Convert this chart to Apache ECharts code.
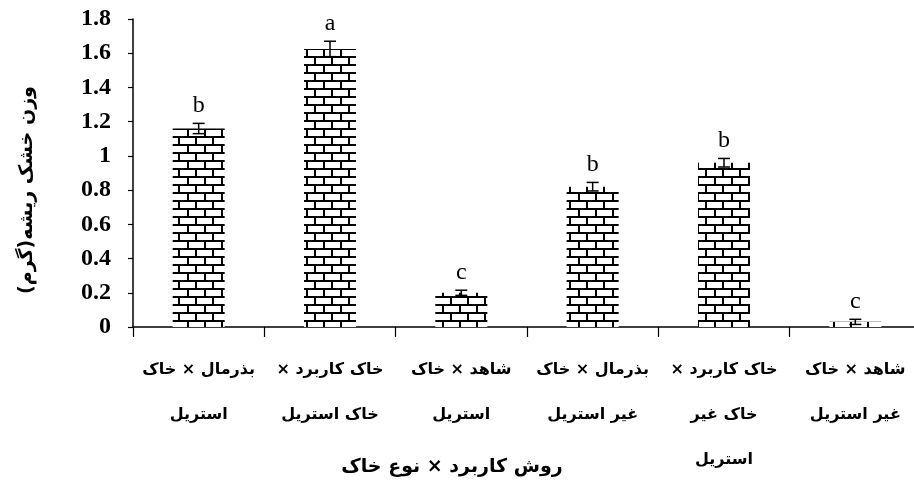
<!DOCTYPE html>
<html>
<head>
<meta charset="utf-8">
<script src="https://cdn.jsdelivr.net/npm/echarts@6/dist/echarts.min.js"></script>
<style>
  html, body { margin: 0; padding: 0; background: #fff; }
  #chart { width: 914px; height: 492px; }
</style>
</head>
<body>
<div id="chart"></div>
<script>
  // treatments (read right to left), one label per bar
  const categories = [
    'بذرمال × خاک\nاستریل',
    'خاک کاربرد ×\nخاک استریل',
    'شاهد × خاک\nاستریل',
    'بذرمال × خاک\nغیر استریل',
    'خاک کاربرد ×\nخاک غیر\nاستریل',
    'شاهد × خاک\nغیر استریل'
  ];
  const rootWeight = [1.16, 1.625, 0.2, 0.82, 0.96, 0.03];
  const errorSize = [0.03, 0.045, 0.015, 0.025, 0.025, 0.015];
  const letters = ['b', 'a', 'c', 'b', 'b', 'c'];
  const yMin = 0, yMax = 1.8, yStep = 0.2;
  const xName = 'روش کاربرد × نوع خاک';
  const yName = 'وزن خشک ریشه(گرم)';

  // wrap every line in a right-to-left embedding
  const rtl = (s) => s.split('\n').map(l => '\u202B' + l + '\u202C').join('\n');

  // brick fill
  function brickPattern() {
    const c = document.createElement('canvas');
    c.width = 34;
    c.height = 16;
    const g = c.getContext('2d');
    g.fillStyle = '#fff';
    g.fillRect(0, 0, 34, 16);
    g.fillStyle = '#000';
    g.fillRect(0, 0, 34, 2);
    g.fillRect(0, 8, 34, 2);
    g.fillRect(0, 0, 2, 8);
    g.fillRect(17, 0, 2, 8);
    g.fillRect(8, 8, 2, 8);
    g.fillRect(25, 8, 2, 8);
    return c;
  }

  const chart = echarts.init(document.getElementById('chart'));

  const errData = rootWeight.map((v, i) => [i, v - errorSize[i], v + errorSize[i]]);

  const option = {
    backgroundColor: '#fff',
    animation: false,
    grid: { left: 133, right: -7, top: 19, bottom: 165, outerBoundsMode: 'none' },
    xAxis: {
      type: 'category',
      data: categories,
      name: rtl(xName),
      nameLocation: 'middle',
      nameGap: 131,
      nameMoveOverlap: false,
      nameTextStyle: {
        fontFamily: 'DejaVu Sans',
        fontWeight: 'bold',
        fontSize: 19,
        color: '#000',
        padding: [0, 150, 0, 0]
      },
      axisLine: { lineStyle: { color: '#000', width: 1.5 } },
      axisTick: { show: true, length: 10, lineStyle: { color: '#000', width: 1.2 } },
      axisLabel: {
        interval: 0,
        margin: 20,
        fontFamily: 'DejaVu Sans',
        fontWeight: 'bold',
        fontSize: 16,
        lineHeight: 45,
        color: '#000',
        formatter: (v) => rtl(v)
      }
    },
    yAxis: {
      type: 'value',
      min: yMin,
      max: yMax,
      interval: yStep,
      name: rtl(yName),
      nameLocation: 'middle',
      nameRotate: 90,
      nameGap: 96,
      nameMoveOverlap: false,
      nameTextStyle: {
        fontFamily: 'DejaVu Sans',
        fontWeight: 'bold',
        fontSize: 19,
        color: '#000',
        padding: [0, 34, 0, 0]
      },
      splitLine: { show: false },
      axisLine: { show: true, lineStyle: { color: '#000', width: 1.5 } },
      axisTick: { show: true, length: 5, lineStyle: { color: '#000', width: 1.2 } },
      axisLabel: {
        margin: 22,
        fontFamily: 'Liberation Serif',
        fontWeight: 'bold',
        fontSize: 24,
        color: '#000'
      }
    },
    series: [
      {
        type: 'bar',
        data: rootWeight,
        barWidth: 52,
        itemStyle: {
          color: { image: brickPattern(), repeat: 'repeat' }
        }
      },
      {
        type: 'custom',
        data: errData,
        clip: false,
        z: 5,
        renderItem: (params, api) => {
          const i = api.value(0);
          const lo = api.coord([i, api.value(1)]);
          const hi = api.coord([i, api.value(2)]);
          const half = 6;
          const line = { stroke: '#000', lineWidth: 1.5 };
          return {
            type: 'group',
            children: [
              { type: 'line', shape: { x1: hi[0], y1: hi[1], x2: lo[0], y2: lo[1] }, style: line },
              { type: 'line', shape: { x1: hi[0] - half, y1: hi[1], x2: hi[0] + half, y2: hi[1] }, style: line },
              { type: 'line', shape: { x1: lo[0] - half, y1: lo[1], x2: lo[0] + half, y2: lo[1] }, style: line },
              {
                type: 'text',
                x: hi[0],
                y: hi[1] - 6,
                style: {
                  text: letters[params.dataIndex],
                  fontFamily: 'Liberation Serif',
                  fontSize: 24,
                  fill: '#000',
                  align: 'center',
                  verticalAlign: 'bottom'
                }
              }
            ]
          };
        }
      }
    ]
  };

  chart.setOption(option);
</script>
</body>
</html>
